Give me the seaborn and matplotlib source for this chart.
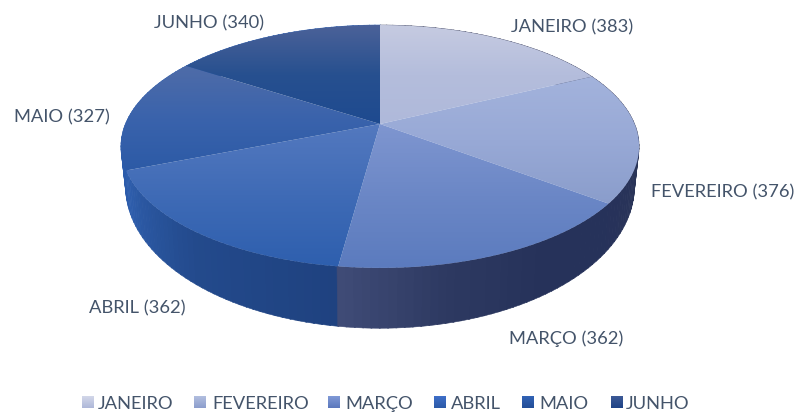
import numpy as np
import matplotlib
matplotlib.use("Agg")
import matplotlib.pyplot as plt
from matplotlib.patches import Polygon
import seaborn as sns

months = ["JANEIRO", "FEVEREIRO", "MARÇO", "ABRIL", "MAIO", "JUNHO"]
values = [383, 376, 362, 362, 327, 340]

TOP_GRAD = [("#c6cbe1", "#b4bddc", "#afb9da"), ("#a3b3dc", "#98a9d6", "#8a9dcb"),
            ("#7f96d0", "#6b87c6", "#5b7bbe"), ("#5479bf", "#3f6bb6", "#2e5fae"),
            ("#4f6ca8", "#3a63ac", "#2c5aa6"), ("#4c6299", "#27508f", "#1e4a90")]
WALL_GRAD = [("#454a66", "#454a66"), ("#484c68", "#454a66", "#2a3558", "#27325a"),
             ("#26325a", "#26325a", "#2d3961", "#3f4b76"),
             ("#1f4280", "#234a8c", "#2f5fae"), ("#2c5cab", "#2f5fae"), ("#2f5fae", "#2f5fae")]
LEGEND_GRAD = [("#d3d7e9", "#aeb8d9"), ("#b2bedf", "#8c9ecd"), ("#8099d6", "#5b78bd"),
               ("#3f6fc8", "#2c5aa8"), ("#3263b5", "#234e98"), ("#3d5a96", "#1e4387")]
TEXT = "#44546A"

LABEL_POS = [(572, 27), (723, 192), (566, 339), (137, 308), (62, 117), (209, 23)]
LEG_SWATCH = [82, 194, 328, 434, 522, 611]
LEG_TEXT = [98, 212, 345, 451, 539, 626]

sns.set_theme(style="white")
plt.rcParams["font.family"] = ["Lato", "DejaVu Sans"]

fig = plt.figure(figsize=(7.97, 4.14), dpi=100)
ax = fig.add_axes([0, 0, 1, 1])
ax.set_axis_off()


def project(phi, a, cy, b, k=0.185, cx=380.0):
    u, v = np.sin(phi), np.cos(phi)
    s = 1 / (1 + k * v)
    return cx + a * u * s, cy - b * v * s


edges = np.concatenate([[0], np.cumsum(values)]) / np.sum(values) * 2 * np.pi

# Side wall, back to front, shaded along each slice
quads = []
for i in range(len(values)):
    steps = np.linspace(edges[i], edges[i + 1], 40)
    cmap = sns.blend_palette(WALL_GRAD[i], n_colors=64, as_cmap=True)
    for j in range(len(steps) - 1):
        t = np.linspace(steps[j], steps[j + 1] + 0.004, 3)
        xt, yt = project(t, 254.6, 125, 117.3)
        xb, yb = project(t, 250, 161.5, 136.7)
        quads.append((-np.cos(t[1]), np.r_[xt, xb[::-1]], np.r_[yt, yb[::-1]],
                      cmap(j / (len(steps) - 2))))
for _, xs, ys, col in sorted(quads, key=lambda q: q[0]):
    ax.fill(xs, ys, color=col, lw=0.4)

# Top face, one vertical gradient per slice
for i in range(len(values)):
    t = np.linspace(edges[i], edges[i + 1], 120)
    x, y = project(t, 254.6, 125, 117.3)
    xs, ys = np.r_[380, x], np.r_[125, y]
    cmap = sns.blend_palette(TOP_GRAD[i], n_colors=128, as_cmap=True)
    im = ax.imshow(np.linspace(0, 1, 128)[:, None], cmap=cmap, aspect="auto",
                   extent=(xs.min() - 1, xs.max() + 1, ys.max() + 1, ys.min() - 1),
                   zorder=3, interpolation="bilinear")
    clip = Polygon(np.c_[xs, ys], closed=True, transform=ax.transData)
    im.set_clip_path(clip)

# Data labels
for m, v, (lx, ly) in zip(months, values, LABEL_POS):
    ax.text(lx, ly, f"{m} ({v})", ha="center", va="center", fontsize=13.2,
            color=TEXT, zorder=5)

# Legend
for i, m in enumerate(months):
    cmap = sns.blend_palette(LEGEND_GRAD[i], n_colors=32, as_cmap=True)
    ax.imshow(np.linspace(0, 1, 32)[:, None], cmap=cmap, aspect="auto",
              extent=(LEG_SWATCH[i], LEG_SWATCH[i] + 12, 409, 397), zorder=3)
    ax.text(LEG_TEXT[i], 404, m, ha="left", va="center", fontsize=13.2,
            color=TEXT, zorder=5)

ax.set_xlim(0, 797)
ax.set_ylim(414, 0)
fig.savefig("out.png", dpi=100, facecolor="white")
